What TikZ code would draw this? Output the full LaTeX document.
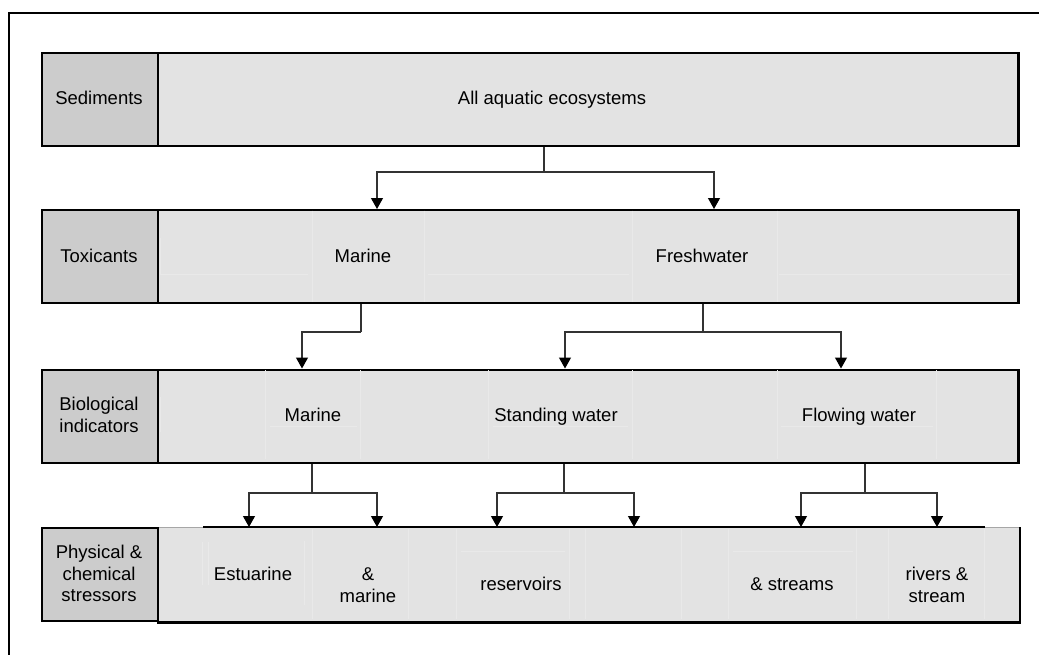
\documentclass[tikz,border=0pt]{standalone}
\usepackage{fontspec}
\setmainfont{Liberation Sans}
\usetikzlibrary{arrows.meta}
\definecolor{labfill}{HTML}{CCCCCC}
\definecolor{cellfill}{HTML}{E3E3E3}
\definecolor{seam}{HTML}{E9E9E9}
\definecolor{wire}{HTML}{333333}
\begin{document}
\begin{tikzpicture}[x=1pt,y=-1pt,
  every node/.style={font=\fontsize{18.5}{21.5}\selectfont, text=black},
  labbox/.style={draw=black, line width=2.4pt, fill=labfill, minimum width=115.7pt,
    minimum height=93pt, anchor=north west, inner sep=0pt},
  rowbox/.style={draw=black, line width=2.4pt, fill=cellfill, minimum width=860.6pt,
    minimum height=93pt, anchor=north west, inner sep=0pt},
  onel/.style={inner sep=0pt, text height=13.25pt, text depth=0pt},
  multil/.style={inner sep=0pt, align=center},
  seamline/.style={draw=seam, line width=0.8pt},
  wireline/.style={draw=wire, line width=1.2pt},
  arrowline/.style={wireline, -{Triangle[width=12pt,length=11pt,color=black]}},
  edge/.style={draw=black, line width=2.4pt},
  softedge/.style={draw=black!35, line width=0.9pt},
  frame/.style={draw=black, line width=1.8pt}]
\useasboundingbox (0,0) rectangle (1039,654);

% open frame around the chart
\draw[frame] (9,655) -- (9,12.7) -- (1040,12.7);

% ---- row boxes ----
\node[rowbox] (r1) at (156.7,51.7) {};
\node[labbox] (l1) at (41,51.7) {};
\node[rowbox] (r2) at (156.7,209) {};
\node[labbox] (l2) at (41,209) {};
\node[rowbox] (r3) at (156.7,368.5) {};
\node[labbox] (l3) at (41,368.5) {};
\node[rowbox, draw=none] (r4) at (156.7,527) {};

% faint cell seams inside the rows
\foreach \x in {312,424,632,777} \draw[seamline] (\x,210.5) -- (\x,301.5);
\draw[seamline] (160,274) -- (308,274) (428,274) -- (629,274) (779,274) -- (1012,274)
  (160,238) -- (160,274);
\foreach \x in {265,360,488,632,777,936} \draw[seamline] (\x,370) -- (\x,459.3);
\draw[seamline] (270,426) -- (357,426) (493,426) -- (628,426) (781,426) -- (933,426)
  (160,397) -- (160,432);
\foreach \x in {312,408,456,569,585,681,728,856,888,984} \draw[seamline] (\x,528.5) -- (\x,618.5);
\draw[seamline] (202,542) -- (202,585) (208,542) -- (208,585) (304,541) -- (304,605)
  (461,551) -- (565,551) (733,551) -- (853,551);

% border of the last row
\coordinate (e4a) at (203,527);
\coordinate (e4b) at (985,527);
\draw[softedge] (r4.north west) -- (e4a) (e4b) -- (r4.north east);
\draw[edge] (e4a) -- (e4b);
\draw[edge] (r4.north east) -- (r4.south east) -- (r4.south west);
\node[labbox] (l4) at (41,527) {};

% ---- row titles ----
\node[onel] (t1) at (99,97.7) {Sediments};
\node[onel] (t2) at (99,256) {Toxicants};
\node[multil] (t3) at (99,415) {Biological\\indicators};
\node[multil] (t4) at (99,573.5) {Physical \&\\chemical\\stressors};

% ---- entries ----
\node[onel] (all) at (552,97.7) {All aquatic ecosystems};
\node[onel] (mar2) at (363,256) {Marine};
\node[onel] (fre2) at (702,256) {Freshwater};
\node[onel] (mar3) at (313,415) {Marine};
\node[onel] (sta3) at (556,415) {Standing water};
\node[onel] (flo3) at (859,415) {Flowing water};
\node[onel] (est4) at (253,573.7) {Estuarine};
\node[multil] (amar4) at (368,585) {\&\\marine};
\node[onel] (res4) at (521,584) {reservoirs};
\node[onel] (str4) at (792,584) {\& streams};
\node[multil] (riv4) at (937,585) {rivers \&\\stream};

% ---- branch points and drop points ----
\coordinate (j1) at (544,172);
\coordinate (d1a) at (377,0);
\coordinate (d1b) at (714,0);
\coordinate (j2a) at (361,332);
\coordinate (d2a) at (302,0);
\coordinate (j2b) at (703,332);
\coordinate (d2b) at (565,0);
\coordinate (d2c) at (841,0);
\coordinate (j3a) at (312,493);
\coordinate (d3a) at (249,0);
\coordinate (d3b) at (377,0);
\coordinate (j3b) at (564,493);
\coordinate (d3c) at (497,0);
\coordinate (d3d) at (634,0);
\coordinate (j3c) at (865,493);
\coordinate (d3e) at (801,0);
\coordinate (d3f) at (937,0);

% ---- connectors ----
\draw[wireline] (r1.south -| j1) -- (j1);
\draw[arrowline] (j1) -| (r2.north -| d1a);
\draw[arrowline] (j1) -| (r2.north -| d1b);

\draw[wireline] (r2.south -| j2a) -- (j2a);
\draw[arrowline] (j2a) -| (r3.north -| d2a);
\draw[wireline] (r2.south -| j2b) -- (j2b);
\draw[arrowline] (j2b) -| (r3.north -| d2b);
\draw[arrowline] (j2b) -| (r3.north -| d2c);

\draw[wireline] (r3.south -| j3a) -- (j3a);
\draw[arrowline] (j3a) -| (r4.north -| d3a);
\draw[arrowline] (j3a) -| (r4.north -| d3b);
\draw[wireline] (r3.south -| j3b) -- (j3b);
\draw[arrowline] (j3b) -| (r4.north -| d3c);
\draw[arrowline] (j3b) -| (r4.north -| d3d);
\draw[wireline] (r3.south -| j3c) -- (j3c);
\draw[arrowline] (j3c) -| (r4.north -| d3e);
\draw[arrowline] (j3c) -| (r4.north -| d3f);
\end{tikzpicture}
\end{document}
